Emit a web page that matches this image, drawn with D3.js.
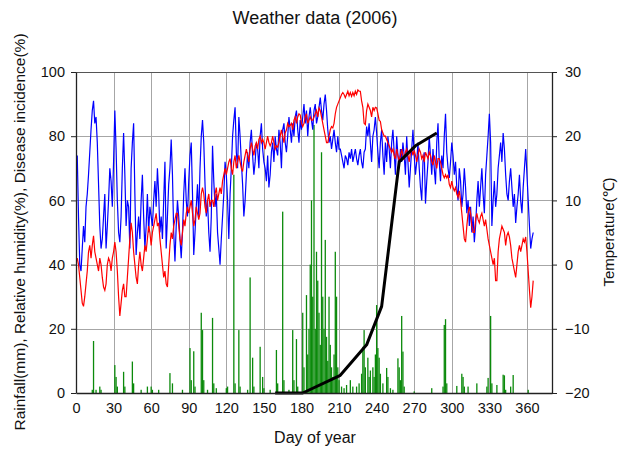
<!DOCTYPE html>
<html><head><meta charset="utf-8">
<script src="https://cdn.jsdelivr.net/npm/d3@7"></script>
<style>body{margin:0;background:#fff}svg{display:block}text{font-family:"Liberation Sans",Arial,sans-serif;fill:#111}</style>
</head><body><svg id="c" width="624" height="449"></svg>
<script>
const chartTitle = "Weather data (2006)";
const xLabel = "Day of year";
const leftLabel = "Rainfall(mm), Relative humidity(%), Disease incidence(%)";
const rightLabel = "Temperature(\u2103)";
const xTicks = [0,30,60,90,120,150,180,210,240,270,300,330,360];
const leftTicks = [0,20,40,60,80,100];
const rightTicks = [-20,-10,0,10,20,30];

// daily relative humidity (%), day 1..365
const humidity = [
74,55,40,38,45,52,47,58,62,68,
75,82,88,91,84,86,78,65,52,45,
48,55,62,45,52,60,70,66,58,72,
88,76,60,50,47,55,70,81,68,52,
60,58,45,70,78,84,62,43,50,55,
48,60,68,55,45,52,62,50,58,55,
52,60,66,58,70,62,50,55,48,60,
72,45,55,65,70,79,68,50,41,52,
60,55,48,42,50,62,70,60,55,66,
74,78,62,43,50,58,65,55,70,80,
85,78,65,55,60,50,44,55,77,66,
58,62,50,45,40,48,55,62,72,68,
60,48,62,70,80,85,89,75,70,86,
80,72,65,55,60,68,75,70,78,82,
74,68,72,78,76,70,80,84,76,72,
70,66,74,64,68,75,78,72,80,76,
74,82,78,70,82,84,78,75,80,86,
82,78,84,80,86,88,82,78,85,82,
86,90,84,88,80,86,89,85,82,88,
90,84,86,89,92,88,85,90,93,88,
82,78,80,76,79,82,78,75,80,76,
76,74,72,70,74,73,71,75,73,76,
72,74,76,73,71,74,76,72,70,75,
76,83,80,84,78,72,80,82,86,81,
75,70,78,82,74,68,78,72,80,76,
70,78,82,75,68,80,74,70,76,72,
78,74,68,80,72,64,70,76,82,74,
68,72,78,70,64,60,72,75,59,66,
72,80,74,68,76,70,65,78,84,72,
66,74,70,80,87,75,70,67,72,78,
74,68,72,64,60,70,66,58,62,70,
64,56,60,52,58,50,55,47,52,60,
66,58,64,70,62,56,68,74,80,87,
78,52,60,66,58,62,70,74,78,72,
81,76,68,62,60,66,70,64,58,62,
53,58,62,68,60,56,64,70,76,68,
60,52,45,48,50];

// daily mean temperature (deg C), day 1..365
const temperature = [
1,0,-2,-4,-6,-6.5,-5,-3,-1,2,
3,1,3,4.5,2,1,0,-1,1,0,
-2,-3.5,-4,-3,0,1,0.5,-1,1,2,
3.5,2,-1,-5,-8,-6,-4,-3,-5,-5,
-2,1,4,6.5,5,2,0,-2,-3,0,
2,0,-1,1,3,2,4,6,5,3,
5,6,7,8,6,6.5,4,2,0,-2,
-1,-3,-3.5,0,3,5,4,6,7,8,
8,6,4,3,5,7,6,8,9,8,
9,10,8,6,7,9,8,7,8,11,
12,11,9,8,10,11,9,10,10,9,
11,12,10,11,12,11,13,14,15,14,
15,16,16.5,15,14,16,17,15,16,17,
16,15,14.5,16,17,18,17,16,18,19,
18,17,18.5,19,18,19.5,20,19,19.5,19,
18,19,20,19,18.5,19,20,19,18,18.5,
18.3,19,20,21,20,19,20.5,21,22,21.5,
21.7,22,21,22.5,23,22,23,23.5,23.3,22,
21.5,22,23,23.5,22,22.5,23,22.5,22.5,23,
23.5,24,23,24.4,24,23,22,21,20,19,
19,20,21,21.5,21.3,22,23.5,24.5,25,25.5,
26,26.5,26.8,26.5,26,26.5,27,26.3,26.8,26.2,
26.8,26.3,27,26.5,27.2,27,27,25.5,24.5,22,
21.8,24,25,24.5,24,23,24.5,24,24.5,24.4,
23.5,22.5,22.3,21,20.5,20,20,19.5,19,18.5,
18,17.5,18,17,16.5,18,17,16,17,18,
17,16.5,17.5,18,17,16,17.5,18,17,17.8,
17,16,17,18,17.5,16.5,17,16,17.5,17,
16.5,17.5,17,16,15.5,17,16,15,16.5,16.5,
16,15,14,13.5,14,13.5,14,12.5,12,13,
12,11.5,12,11,10.5,11.5,10,8,6,4,
3.5,6,8,9,8,6,5,5,7,8,
7,6.5,7.5,8,7,6,7,5.5,4,3,
2,1,0,1,-2.5,-2.5,2,4,5,6,
5.5,5,3,4.5,5,4.3,3,1,0,-1,
-2,0,2,3,2,3,4,3.5,4.3,2,
-1,-4,-6.7,-5,-2.5];

// rainfall (mm): rainy days and amounts
const rainDays = [13,14,16,19,20,31,32,33,38,39,45,46,52,57,60,61,66,75,77,85,91,92,94,95,100,101,102,105,109,110,112,120,121,126,127,130,131,137,139,141,142,147,149,150,155,160,161,165,166,170,173,174,176,177,181,182,184,185,186,187,188,189,190,191,192,193,194,195,196,197,198,199,200,201,202,203,204,205,206,207,208,209,210,212,214,216,219,221,224,226,228,229,230,231,233,234,235,237,238,239,240,241,242,243,245,248,249,251,253,257,258,259,260,261,262,270,284,293,294,295,296,304,308,309,310,313,320,328,329,331,332,336,341,342,343,347,349,361];
const rainMm = [1,16.2,1,2,1,8.7,5,2,6.6,2,9.8,3,1,2,2,1,1,6.2,3,1,14,4,13,2,25,19.6,4,1,23.4,3,1.5,1.5,2,68,3,19.6,2,1,36,11,2,14.4,5,1.5,1,13.4,3,56.5,4,1,19.6,4,16.8,2,25,8,30.5,12,20,40,60,30,83.5,20,44,35,25,15,75,30,20,47.7,17.5,10,30,15,8,5,12,44,30,8,4,2,1.5,2.5,4,2,2,3,6,14.4,19.6,8,11,5,7,8,5,12,27.4,14,11,6,3,7.8,5,1.5,1,10.8,8,4,24,12.9,2,0.5,1.5,2,21.2,23,3,2.2,6,5,2,2,3,2,4.7,24,3,2.5,5.7,5.5,1,2,5.6,1];

// disease incidence (%)
const diseaseDays = [159,170,181,211,232,244,258,271,288];
const diseaseValues = [0,0,0,5.5,15,27,72,77,81];

const svg = d3.select("#c");
const m = {l:76, r:552, t:72, b:393};
const x = d3.scaleLinear().domain([0,380]).range([m.l, m.r]);
const yL = d3.scaleLinear().domain([0,100]).range([m.b, m.t]);
const yR = d3.scaleLinear().domain([-20,30]).range([m.b, m.t]);

// gridlines
const grid = svg.append("g").attr("stroke","#a6a6a6").attr("stroke-width",1);
xTicks.filter(d=>d>0).forEach(d=>{
  grid.append("line").attr("x1",Math.round(x(d))+0.5).attr("x2",Math.round(x(d))+0.5).attr("y1",m.t).attr("y2",m.b);
});
leftTicks.filter(d=>d>0&&d<100).forEach(d=>{
  grid.append("line").attr("x1",m.l).attr("x2",m.r).attr("y1",Math.round(yL(d))+0.5).attr("y2",Math.round(yL(d))+0.5);
});

// rainfall bars
const bw = Math.max(1.3, x(1)-x(0));
svg.append("g").selectAll("rect").data(rainDays.map((d,i)=>[d,rainMm[i]])).join("rect")
  .attr("x",d=>x(d[0])-bw/2).attr("width",bw)
  .attr("y",d=>yL(d[1])).attr("height",d=>yL(0)-yL(d[1]))
  .attr("fill","#0b8a0b");

// humidity
svg.append("path").datum(humidity)
  .attr("d", d3.line().x((d,i)=>x(i+1)).y(d=>yL(d)))
  .attr("fill","none").attr("stroke","#0000ff").attr("stroke-width",1.2);
// temperature
svg.append("path").datum(temperature)
  .attr("d", d3.line().x((d,i)=>x(i+1)).y(d=>yR(d)))
  .attr("fill","none").attr("stroke","#ff0000").attr("stroke-width",1.2);
// disease
svg.append("path").datum(diseaseDays.map((d,i)=>[d,diseaseValues[i]]))
  .attr("d", d3.line().x(d=>x(d[0])).y(d=>yL(d[1])))
  .attr("fill","none").attr("stroke","#000").attr("stroke-width",3).attr("stroke-linejoin","round");

// frame
svg.append("line").attr("x1",m.l).attr("x2",m.r).attr("y1",m.t+0.5).attr("y2",m.t+0.5).attr("stroke","#555");

// axes
const axL = svg.append("g").attr("transform",`translate(${m.l},0)`)
  .call(d3.axisLeft(yL).tickValues(leftTicks).tickSize(5).tickSizeOuter(0).tickPadding(6));
const axR = svg.append("g").attr("transform",`translate(${m.r},0)`)
  .call(d3.axisRight(yR).tickValues(rightTicks).tickSize(5).tickSizeOuter(0).tickPadding(8));
const axB = svg.append("g").attr("transform",`translate(0,${m.b})`)
  .call(d3.axisBottom(x).tickValues(xTicks).tickSize(0).tickSizeOuter(0).tickPadding(10));
[axL,axR,axB].forEach(a=>{
  a.selectAll("text").style("font-size","14.5px").attr("fill","#111");
  a.select(".domain").attr("stroke","#222").attr("stroke-width",1.3);
  a.selectAll(".tick line").attr("stroke","#222");
});

svg.append("text").attr("x",315).attr("y",24).attr("text-anchor","middle").style("font-size","18px").text(chartTitle);
svg.append("text").attr("x",315).attr("y",443).attr("text-anchor","middle").style("font-size","16px").text(xLabel);
svg.append("text").attr("transform",`translate(25,232) rotate(-90)`).attr("text-anchor","middle").style("font-size","15.5px").text(leftLabel);
svg.append("text").attr("transform",`translate(614,232) rotate(-90)`).attr("text-anchor","middle").style("font-size","15px").text(rightLabel);
</script></body></html>
